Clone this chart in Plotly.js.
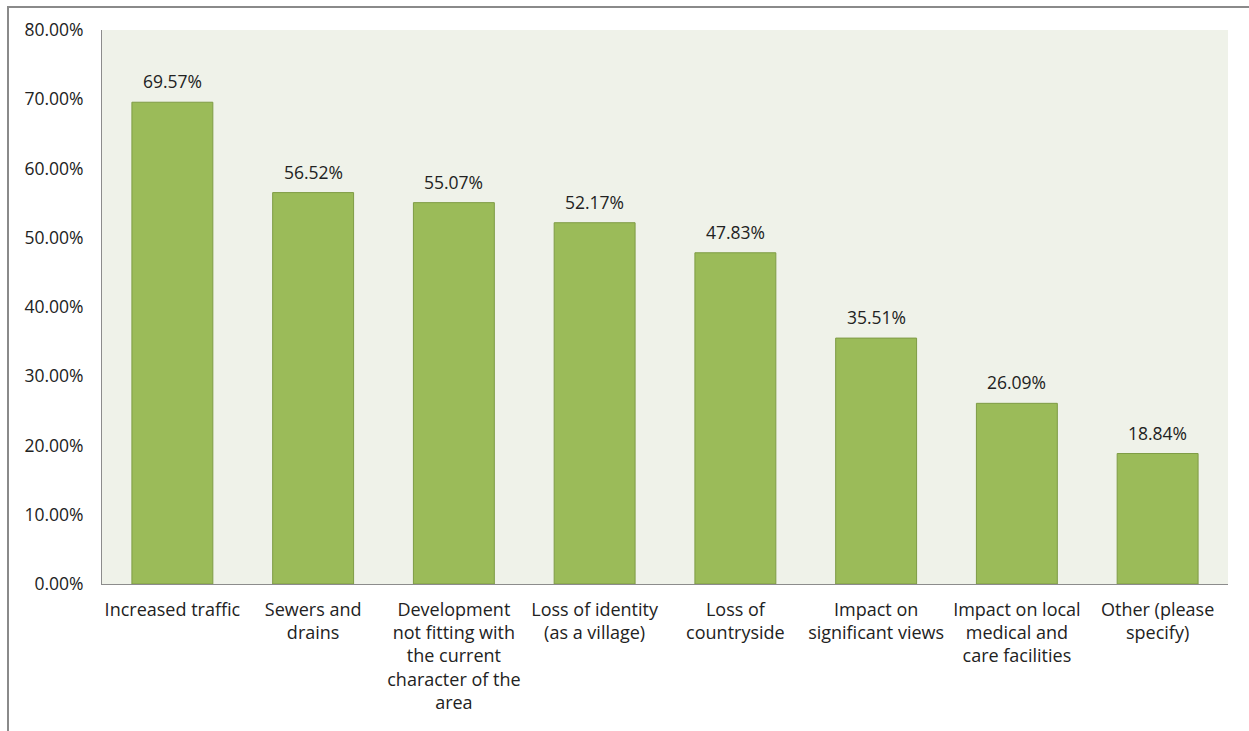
<!DOCTYPE html>
<html>
<head>
<meta charset="utf-8">
<script src="https://cdn.plot.ly/plotly-3.0.1.min.js"></script>
<style>
html,body{margin:0;padding:0;background:#fff;}
#frame{position:absolute;left:7px;top:6px;width:1242px;height:725px;border-top:2px solid #8a8a8a;border-left:2px solid #8a8a8a;box-sizing:border-box;pointer-events:none;}
#chart{position:absolute;left:0;top:0;width:1249px;height:731px;}
</style>
</head>
<body>
<div id="chart"></div>
<div id="frame"></div>
<script>
const categories = [
  "Increased traffic",
  "Sewers and<br>drains",
  "Development<br>not fitting with<br>the current<br>character of the<br>area",
  "Loss of identity<br>(as a village)",
  "Loss of<br>countryside",
  "Impact on<br>significant views",
  "Impact on local<br>medical and<br>care facilities",
  "Other (please<br>specify)"
];
const values = [0.6957, 0.5652, 0.5507, 0.5217, 0.4783, 0.3551, 0.2609, 0.1884];
const tickVals = [0, 0.1, 0.2, 0.3, 0.4, 0.5, 0.6, 0.7, 0.8];
const tickText = ["0.00%", "10.00%", "20.00%", "30.00%", "40.00%", "50.00%", "60.00%", "70.00%", "80.00%"];

const FONT = '"Open Sans", "Noto Sans", sans-serif';

const trace = {
  type: 'bar',
  x: categories,
  y: values,
  marker: {color: '#9BBB59', line: {color: '#7E9C45', width: 1}},
  hoverinfo: 'none'
};

const annotations = categories.map((c, i) => ({
  x: c, y: values[i], xref: 'x', yref: 'y',
  text: (values[i] * 100).toFixed(2) + '%',
  showarrow: false, yanchor: 'bottom', yshift: 7,
  font: {family: FONT, size: 17.5, color: '#222'}
}));

const layout = {
  width: 1249, height: 731,
  margin: {l: 102, r: 21, t: 30, b: 147},
  paper_bgcolor: 'rgba(0,0,0,0)',
  plot_bgcolor: '#EFF2E9',
  bargap: 0.425,
  showlegend: false,
  annotations: annotations,
  font: {family: FONT, size: 18, color: '#222'},
  xaxis: {
    showline: true, linecolor: '#8c8c8c', linewidth: 1,
    ticks: '', tickangle: 0, ticklabelstandoff: 9,
    tickfont: {family: FONT, size: 18, color: '#222'}
  },
  yaxis: {
    range: [0, 0.8], tickvals: tickVals, ticktext: tickText,
    showgrid: false, zeroline: false,
    showline: true, linecolor: '#8c8c8c', linewidth: 1,
    ticks: '', ticklabelstandoff: 14,
    tickfont: {family: FONT, size: 17.5, color: '#222'}
  }
};

Plotly.newPlot('chart', [trace], layout, {displayModeBar: false, staticPlot: true});
</script>
</body>
</html>
